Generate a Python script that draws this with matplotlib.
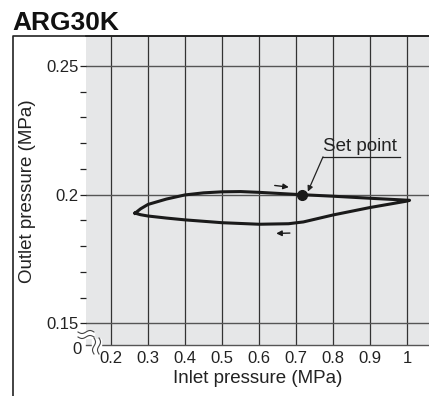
import numpy as np
import matplotlib
matplotlib.use('Agg')
import matplotlib.pyplot as plt
from matplotlib.lines import Line2D

plt.rcParams['font.family'] = ['Liberation Sans', 'DejaVu Sans']

# hysteresis loop (MPa)
upper_x = [0.265, 0.28, 0.30, 0.35, 0.40, 0.45, 0.50, 0.55, 0.60, 0.70, 0.80, 0.90, 1.007]
upper_y = [0.1928, 0.1945, 0.1962, 0.1983, 0.1999, 0.2007, 0.2011, 0.2012, 0.2009, 0.2001, 0.1994, 0.1986, 0.1978]
lower_x = [1.007, 1.00, 0.90, 0.80, 0.72, 0.68, 0.60, 0.50, 0.40, 0.35, 0.30, 0.28, 0.265]
lower_y = [0.1978, 0.1975, 0.1950, 0.1921, 0.1894, 0.1887, 0.1885, 0.1891, 0.1902, 0.1909, 0.1917, 0.1922, 0.1928]
set_point = (0.715, 0.2)

x_ticks = [0.2, 0.3, 0.4, 0.5, 0.6, 0.7, 0.8, 0.9, 1.0]
x_labels = ['0.2', '0.3', '0.4', '0.5', '0.6', '0.7', '0.8', '0.9', '1']
y_major = [0.15, 0.2, 0.25]
y_labels = ['0.15', '0.2', '0.25']
y_minor = [0.16, 0.17, 0.18, 0.19, 0.21, 0.22, 0.23, 0.24]

W, H = 429, 396
fig = plt.figure(figsize=(W / 100, H / 100), dpi=100)
ax = fig.add_axes([86 / W, 1 - 345 / H, 1 - 86 / W, (345 - 36) / H])
ax.set_facecolor('#e6e7e8')

ax.set_xlim(0.1324, 1.0595)
ax.set_ylim(0.14157, 0.26166)

for x in x_ticks:
    ax.axvline(x, color='#333333', lw=0.9, zorder=1)
for y in y_major:
    ax.axhline(y, color='#555555', lw=1.0, zorder=1)

ax.set_xticks(x_ticks)
ax.set_xticklabels(x_labels)
ax.set_yticks(y_major)
ax.set_yticklabels(y_labels)
ax.set_yticks(y_minor, minor=True)
ax.tick_params(axis='x', length=0, pad=4.5, labelsize=12, colors='#222222')
ax.tick_params(axis='y', which='both', length=4.5, width=0.9, pad=1, labelsize=12, colors='#222222')

for s in ['left', 'right']:
    ax.spines[s].set_visible(False)
ax.spines['top'].set_color('#222222')
ax.spines['top'].set_linewidth(1.2)
ax.spines['bottom'].set_color('#555555')
ax.spines['bottom'].set_linewidth(1.0)

ax.plot(upper_x + lower_x, upper_y + lower_y, color='#1a1a1a', lw=2.2, zorder=3,
        solid_joinstyle='round')
ax.plot(*set_point, 'o', color='#1a1a1a', ms=7, zorder=4)

# direction arrows
ax.annotate('', xy=(0.688, 0.2028), xytext=(0.635, 0.2037),
            arrowprops=dict(arrowstyle='-|>', color='#1a1a1a', lw=1, mutation_scale=8))
ax.annotate('', xy=(0.639, 0.1849), xytext=(0.691, 0.1851),
            arrowprops=dict(arrowstyle='-|>', color='#1a1a1a', lw=1, mutation_scale=8))

# set point callout
ax.text(0.774, 0.2189, 'Set point', fontsize=13.5, va='center', ha='left', color='#222222')
ax.plot([0.773, 0.981], [0.2147, 0.2147], color='#222222', lw=0.9)
ax.annotate('', xy=(0.732, 0.2012), xytext=(0.773, 0.2147),
            arrowprops=dict(arrowstyle='-|>', color='#222222', lw=0.9, mutation_scale=8,
                            shrinkA=0, shrinkB=0))

ax.set_xlabel('Inlet pressure (MPa)', fontsize=13.5, color='#222222', labelpad=3)


# axis origin label and break marks (figure pixel coords)
def fx(px):
    return px / W


def fy(py):
    return 1 - py / H


fig.text(fx(27), fy(191), 'Outlet pressure (MPa)', fontsize=13.5, rotation=90,
         ha='center', va='center', color='#222222')
fig.text(fx(77), fy(349), '0', fontsize=12, ha='center', va='center', color='#222222')

t = np.linspace(0, 1, 30)
wave = np.sin(t * 2 * np.pi) * 1.5
fig.patches.append(plt.Polygon([(fx(78), fy(331)), (fx(94), fy(331)), (fx(94), fy(338)), (fx(78), fy(338))],
                               closed=True, transform=fig.transFigure, color='white', zorder=5))
fig.patches.append(plt.Polygon([(fx(92), fy(339)), (fx(101), fy(339)), (fx(101), fy(350)), (fx(92), fy(350))],
                               closed=True, transform=fig.transFigure, color='white', zorder=5))
for off in (332, 337):
    fig.add_artist(Line2D(fx(78 + 16 * t), fy(off + wave), transform=fig.transFigure,
                          color='#444444', lw=0.8, zorder=6))
for off in (94, 99):
    fig.add_artist(Line2D(fx(off + wave), fy(338 + 16 * t), transform=fig.transFigure,
                          color='#444444', lw=0.8, zorder=6))

# outer frame
fig.add_artist(Line2D([fx(13), fx(13), 1], [0, fy(36), fy(36)], transform=fig.transFigure,
                      color='#222222', lw=1.2))

fig.text(fx(12), fy(30), 'ARG30K', fontsize=19, fontweight='bold', ha='left',
         va='baseline', color='#111111')

fig.savefig('out.png', dpi=100)
